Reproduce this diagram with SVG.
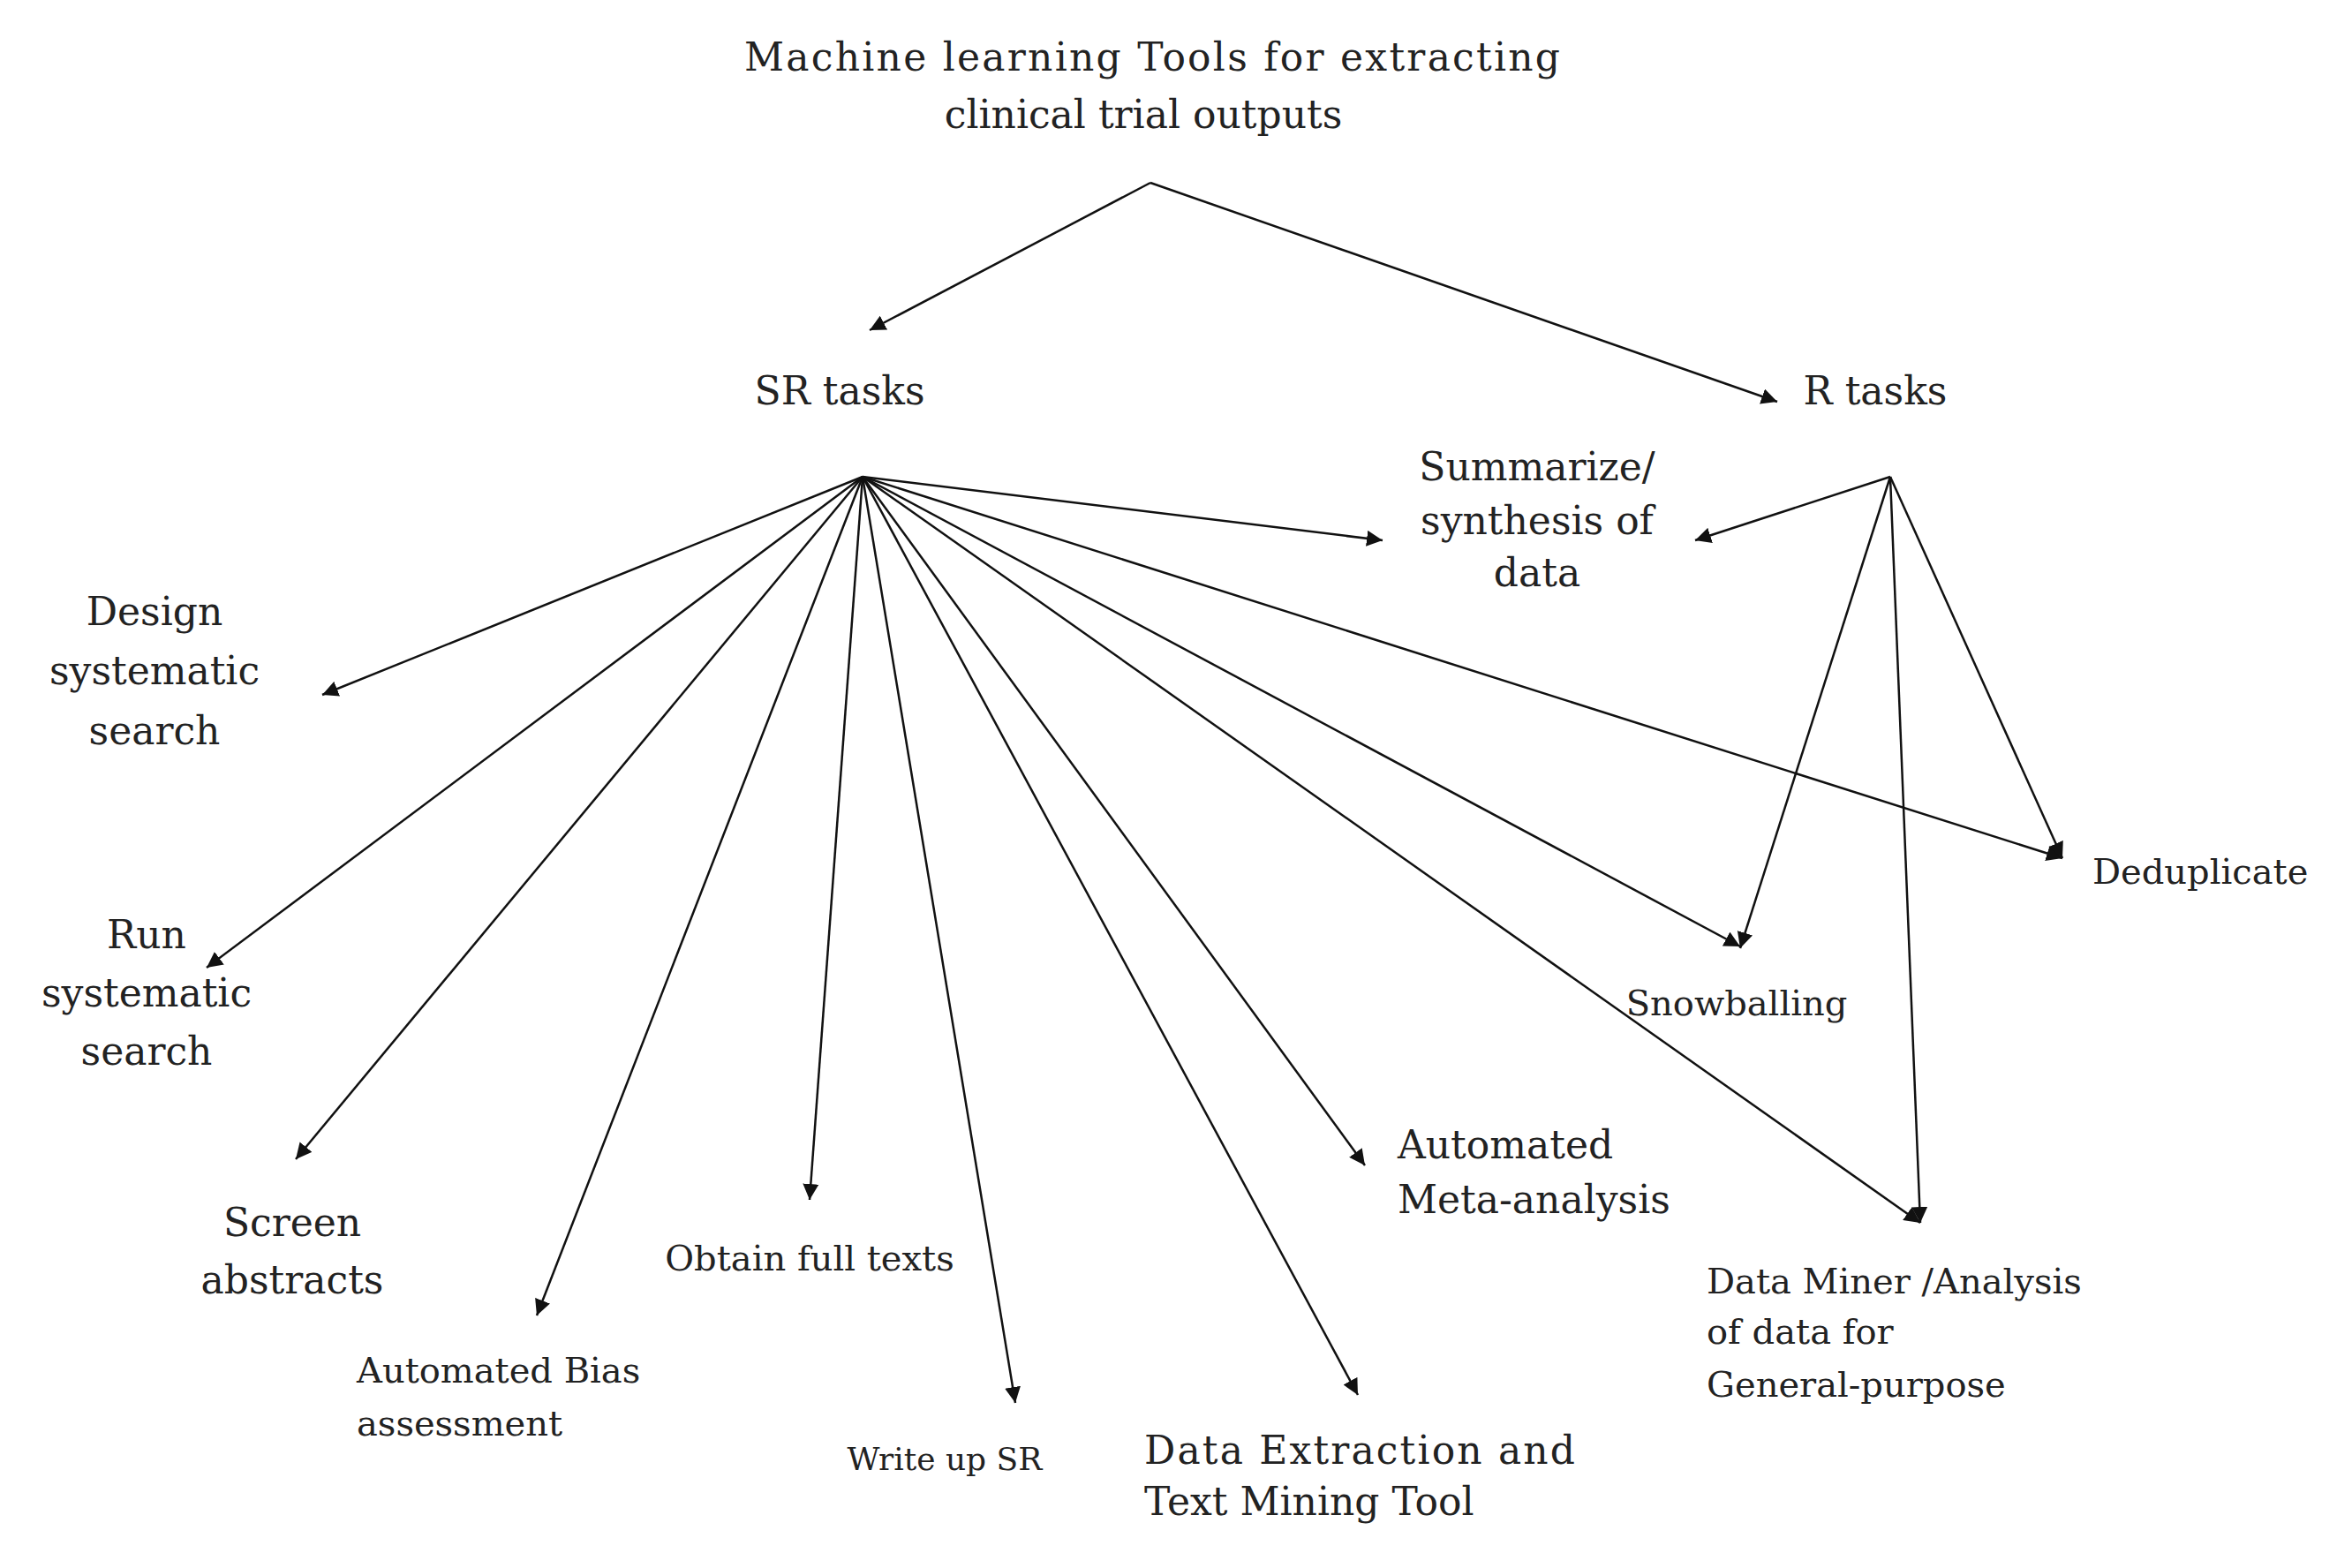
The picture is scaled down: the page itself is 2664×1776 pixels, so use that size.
<svg xmlns="http://www.w3.org/2000/svg" width="2664" height="1776" viewBox="0 0 2664 1776">
<style>
text{font-family:"DejaVu Serif","Liberation Serif",serif;font-size:44px;fill:#222}
.c{text-anchor:middle}
.s{font-size:40px}
.xs{font-size:36px}
line{stroke:#111;stroke-width:2.5;marker-end:url(#a)}
</style>
<defs><marker id="a" viewBox="0 0 10 10" refX="10" refY="5" markerWidth="9" markerHeight="9" markerUnits="userSpaceOnUse" orient="auto"><path d="M0,0L10,5L0,10z" fill="#111"/></marker>
<marker id="b" viewBox="0 0 10 10" refX="10" refY="5" markerWidth="18" markerHeight="18" markerUnits="userSpaceOnUse" orient="auto"><path d="M0,0L10,5L0,10z" fill="#111"/></marker></defs>
<rect width="2664" height="1776" fill="#fff"/>
<g id="connectors">
<line x1="1303" y1="207" x2="985" y2="374" style="marker-end:url(#b)"/>
<line x1="1303" y1="207" x2="2013" y2="455" style="marker-end:url(#b)"/>
<line x1="977" y1="540" x2="365" y2="787" style="marker-end:url(#b)"/>
<line x1="977" y1="540" x2="234" y2="1096" style="marker-end:url(#b)"/>
<line x1="977" y1="540" x2="335" y2="1313" style="marker-end:url(#b)"/>
<line x1="977" y1="540" x2="608" y2="1490" style="marker-end:url(#b)"/>
<line x1="977" y1="540" x2="917" y2="1359" style="marker-end:url(#b)"/>
<line x1="977" y1="540" x2="1150" y2="1589" style="marker-end:url(#b)"/>
<line x1="977" y1="540" x2="1538" y2="1580" style="marker-end:url(#b)"/>
<line x1="977" y1="540" x2="1546" y2="1320" style="marker-end:url(#b)"/>
<line x1="977" y1="540" x2="2175" y2="1385" style="marker-end:url(#b)"/>
<line x1="977" y1="540" x2="1971" y2="1072" style="marker-end:url(#b)"/>
<line x1="977" y1="540" x2="2336" y2="972" style="marker-end:url(#b)"/>
<line x1="977" y1="540" x2="1566" y2="612" style="marker-end:url(#b)"/>
<line x1="2141" y1="540" x2="1920" y2="612" style="marker-end:url(#b)"/>
<line x1="2141" y1="540" x2="1971" y2="1074" style="marker-end:url(#b)"/>
<line x1="2141" y1="540" x2="2175" y2="1385" style="marker-end:url(#b)"/>
<line x1="2141" y1="540" x2="2336" y2="972" style="marker-end:url(#b)"/>
</g>
<g id="root"><text x="843" y="80" textLength="924" lengthAdjust="spacing">Machine learning Tools for extracting</text><text class="c" x="1295" y="145">clinical trial outputs</text></g>
<g id="sr"><text class="c" x="951" y="458">SR tasks</text></g>
<g id="r"><text class="c" x="2124" y="458">R tasks</text></g>
<g id="summarize"><text class="c" x="1741" y="544">Summarize/</text><text class="c" x="1741" y="605">synthesis of</text><text class="c" x="1741" y="664">data</text></g>
<g id="design"><text class="c" x="175" y="708">Design</text><text class="c" x="175" y="775">systematic</text><text class="c" x="175" y="843">search</text></g>
<g id="run"><text class="c" x="166" y="1074">Run</text><text class="c" x="166" y="1140">systematic</text><text class="c" x="166" y="1206">search</text></g>
<g id="screen"><text class="c" x="331" y="1400">Screen</text><text class="c" x="331" y="1465">abstracts</text></g>
<g id="bias"><text x="404" y="1566" class="s">Automated Bias</text><text x="404" y="1626" class="s">assessment</text></g>
<g id="obtain"><text class="c s" x="917" y="1439">Obtain full texts</text></g>
<g id="write"><text class="c xs" x="1070" y="1665">Write up SR</text></g>
<g id="extraction"><text x="1296" y="1658" textLength="488" lengthAdjust="spacing">Data Extraction and</text><text x="1296" y="1716">Text Mining Tool</text></g>
<g id="meta"><text x="1583" y="1312">Automated</text><text x="1583" y="1374">Meta-analysis</text></g>
<g id="snow"><text class="c s" x="1967" y="1150">Snowballing</text></g>
<g id="dedup"><text class="s" x="2370" y="1001">Deduplicate</text></g>
<g id="miner"><text x="1933" y="1465" class="s">Data Miner /Analysis</text><text x="1933" y="1522" class="s">of data for</text><text x="1933" y="1582" class="s">General-purpose</text></g>
</svg>
